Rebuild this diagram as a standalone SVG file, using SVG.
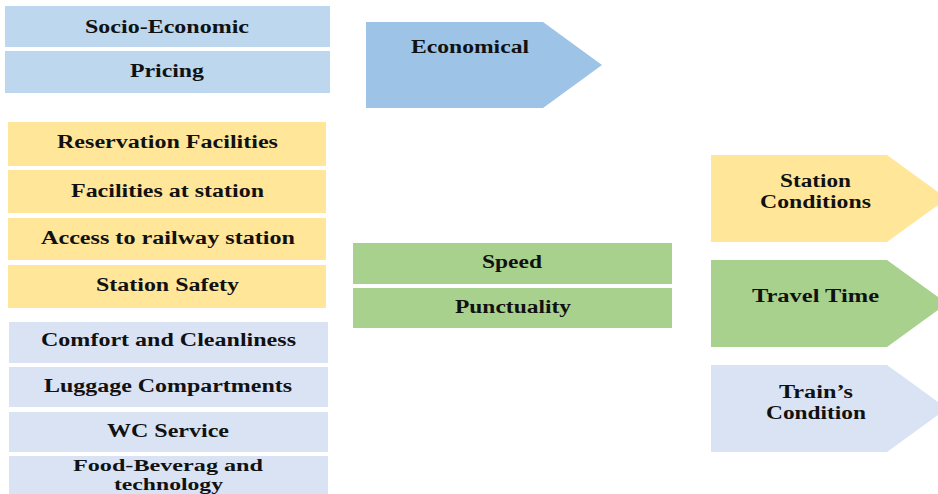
<svg xmlns="http://www.w3.org/2000/svg" width="938" height="494" viewBox="0 0 938 494">
  <style>
    text { font-family: "Liberation Serif", "Times New Roman", serif; font-weight: bold; font-size: 18px; fill: #111; text-anchor: middle; }
    .tight { font-size: 16px; }
    .blue { fill: #BDD7EE; }
    .blue2 { fill: #9DC3E6; }
    .yellow { fill: #FFE699; }
    .green { fill: #A9D18E; }
    .lav { fill: #DAE3F3; }
  </style>
  <rect width="938" height="494" fill="#ffffff"/>

  <!-- Economic factors -->
  <g id="socio-economic"><rect class="blue" x="5" y="6" width="325" height="41"/><text x="167" y="33" textLength="164" lengthAdjust="spacingAndGlyphs">Socio-Economic</text></g>
  <g id="pricing"><rect class="blue" x="5" y="51" width="325" height="42"/><text x="167" y="77" textLength="74" lengthAdjust="spacingAndGlyphs">Pricing</text></g>

  <!-- Station factors -->
  <g id="reservation"><rect class="yellow" x="8" y="122" width="318" height="44"/><text x="167.5" y="148" textLength="221" lengthAdjust="spacingAndGlyphs">Reservation Facilities</text></g>
  <g id="facilities"><rect class="yellow" x="8" y="170" width="318" height="43"/><text x="167.5" y="197" textLength="193" lengthAdjust="spacingAndGlyphs">Facilities at station</text></g>
  <g id="access"><rect class="yellow" x="8" y="218" width="318" height="42"/><text x="168" y="244" textLength="254" lengthAdjust="spacingAndGlyphs">Access to railway station</text></g>
  <g id="safety"><rect class="yellow" x="8" y="265" width="318" height="43"/><text x="167.5" y="291" textLength="143" lengthAdjust="spacingAndGlyphs">Station Safety</text></g>

  <!-- Train factors -->
  <g id="comfort"><rect class="lav" x="9" y="322" width="319" height="41"/><text x="168.5" y="346" textLength="255" lengthAdjust="spacingAndGlyphs">Comfort and Cleanliness</text></g>
  <g id="luggage"><rect class="lav" x="9" y="367" width="319" height="40"/><text x="168" y="392" textLength="248" lengthAdjust="spacingAndGlyphs">Luggage Compartments</text></g>
  <g id="wc"><rect class="lav" x="9" y="412" width="319" height="40"/><text x="168" y="437" textLength="122" lengthAdjust="spacingAndGlyphs">WC Service</text></g>
  <g id="food"><rect class="lav" x="9" y="456" width="319" height="40"/><text class="tight" x="168" y="471" textLength="190" lengthAdjust="spacingAndGlyphs">Food-Beverag and</text><text class="tight" x="168.5" y="490" textLength="109" lengthAdjust="spacingAndGlyphs">technology</text></g>

  <!-- Travel time factors -->
  <g id="speed"><rect class="green" x="353" y="243" width="319" height="41"/><text x="512" y="268" textLength="60" lengthAdjust="spacingAndGlyphs">Speed</text></g>
  <g id="punctuality"><rect class="green" x="353" y="288" width="319" height="40"/><text x="513" y="313" textLength="116" lengthAdjust="spacingAndGlyphs">Punctuality</text></g>

  <!-- Category arrows -->
  <g id="economical"><polygon class="blue2" points="366,22 543,22 602,65 543,108 366,108"/><text x="470" y="53" textLength="118" lengthAdjust="spacingAndGlyphs">Economical</text></g>
  <g id="station-conditions"><polygon class="yellow" points="711,155 887,155 947,198.5 887,242 711,242"/><text x="815.5" y="187" textLength="71" lengthAdjust="spacingAndGlyphs">Station</text><text x="815.5" y="208" textLength="111" lengthAdjust="spacingAndGlyphs">Conditions</text></g>
  <g id="travel-time"><polygon class="green" points="711,260 887,260 947,303.5 887,347 711,347"/><text x="815.5" y="302" textLength="127" lengthAdjust="spacingAndGlyphs">Travel Time</text></g>
  <g id="train-condition"><polygon class="lav" points="711,365 887,365 947,408.5 887,452 711,452"/><text x="816" y="398" textLength="74" lengthAdjust="spacingAndGlyphs">Train’s</text><text x="816" y="419" textLength="100" lengthAdjust="spacingAndGlyphs">Condition</text></g>

  <g id="connectors"/>
</svg>
